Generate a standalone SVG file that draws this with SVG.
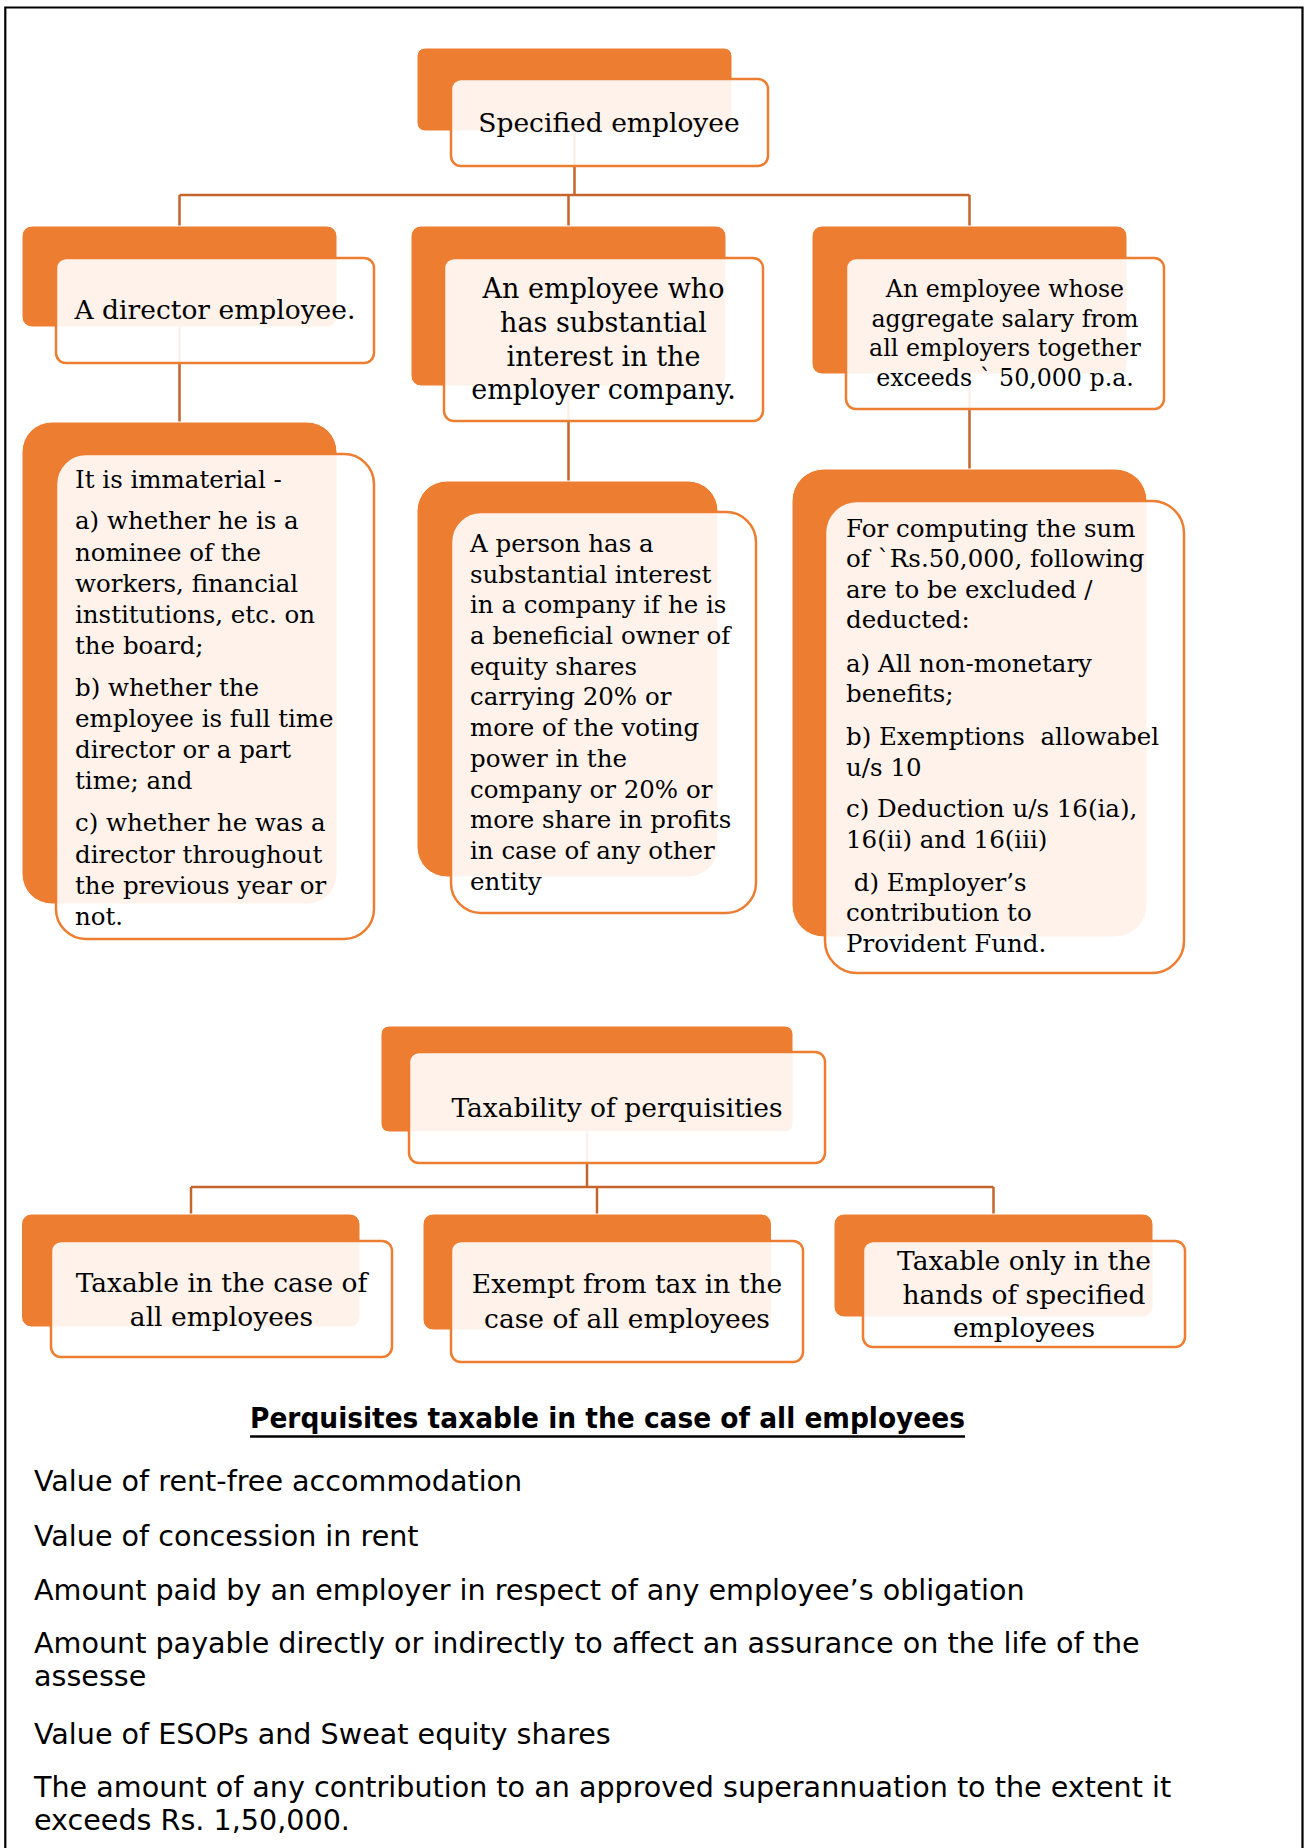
<svg xmlns="http://www.w3.org/2000/svg" width="1306" height="1848" viewBox="0 0 1306 1848">
  <style>
    .back { fill: #ED7D31; stroke: #FFFFFF; stroke-width: 1; }
    .front { fill: #FFFFFF; fill-opacity: 0.9; stroke: #ED7D31; stroke-width: 2.5; }
    .conn { fill: none; stroke: #C3652C; stroke-width: 2.5; }
    .frame { fill: none; stroke: #000000; stroke-width: 2.2; }
    .serif { font-family: "DejaVu Serif", "Liberation Serif", serif; fill: #000000; }
    .t1 { font-size: 26.5px; text-anchor: middle; }
    .tm { font-size: 27px; text-anchor: middle; }
    .tr { font-size: 23.7px; text-anchor: middle; }
    .t2 { font-size: 24.5px; }
    .sans { font-family: "DejaVu Sans", "Liberation Sans", sans-serif; fill: #000000; }
    .list { font-size: 28.6px; }
    .head { font-size: 28px; font-weight: bold; text-anchor: middle; }
  </style>

  <!-- page frame (open at the bottom) -->
  <path class="frame" d="M5.3,1848 V7.5 H1302.5 V1848"/>

  <!-- connectors -->
  <g id="connectors">
    <path class="conn" d="M574.5,131 V195 M179.5,195 H969.5 M179.5,195 V226 M568.5,195 V226 M969.5,195 V226"/>
    <path class="conn" d="M179.5,327 V422 M568.5,386 V481 M969.5,374 V469"/>
    <path class="conn" d="M587,1132 V1187 M191,1187 H993.5 M191,1187 V1214 M597,1187 V1214 M993.5,1187 V1214"/>
  </g>

  <!-- upper hierarchy -->
  <g id="specified-employee">
    <rect class="back" x="417" y="48" width="315" height="83" rx="8"/>
    <rect class="front" x="451" y="79" width="317" height="87" rx="10"/>
    <text class="serif t1" x="609" y="132">Specified employee</text>
  </g>

  <g id="director-employee">
    <rect class="back" x="22" y="226" width="315" height="101" rx="10"/>
    <rect class="front" x="56" y="258" width="318" height="105" rx="10"/>
    <text class="serif t1" x="215" y="319">A director employee.</text>
  </g>

  <g id="substantial-interest">
    <rect class="back" x="411" y="226" width="315" height="160" rx="10"/>
    <rect class="front" x="444" y="258" width="319" height="163" rx="10"/>
    <text class="serif tm" x="603.5" y="298">An employee who</text>
    <text class="serif tm" x="603.5" y="332">has substantial</text>
    <text class="serif tm" x="603.5" y="365.5">interest in the</text>
    <text class="serif tm" x="603.5" y="399">employer company.</text>
  </g>

  <g id="aggregate-salary">
    <rect class="back" x="812" y="226" width="315" height="148" rx="10"/>
    <rect class="front" x="846" y="258" width="318" height="151" rx="10"/>
    <text class="serif tr" x="1005" y="297">An employee whose</text>
    <text class="serif tr" x="1005" y="326.5">aggregate salary from</text>
    <text class="serif tr" x="1005" y="356">all employers together</text>
    <text class="serif tr" x="1005" y="385.5">exceeds ` 50,000 p.a.</text>
  </g>

  <g id="director-detail">
    <rect class="back" x="22" y="422" width="315" height="482" rx="30"/>
    <rect class="front" x="56" y="454" width="318" height="485" rx="30"/>
    <text class="serif t2" x="75" y="487.5">It is immaterial -</text>
    <text class="serif t2" x="75" y="529">a) whether he is a</text>
    <text class="serif t2" x="75" y="560.5">nominee of the</text>
    <text class="serif t2" x="75" y="591.5">workers, financial</text>
    <text class="serif t2" x="75" y="622.5">institutions, etc. on</text>
    <text class="serif t2" x="75" y="653.5">the board;</text>
    <text class="serif t2" x="75" y="696">b) whether the</text>
    <text class="serif t2" x="75" y="727">employee is full time</text>
    <text class="serif t2" x="75" y="758">director or a part</text>
    <text class="serif t2" x="75" y="789">time; and</text>
    <text class="serif t2" x="75" y="831">c) whether he was a</text>
    <text class="serif t2" x="75" y="862.5">director throughout</text>
    <text class="serif t2" x="75" y="893.5">the previous year or</text>
    <text class="serif t2" x="75" y="924.5">not.</text>
  </g>

  <g id="substantial-detail">
    <rect class="back" x="417" y="481" width="301" height="396" rx="30"/>
    <rect class="front" x="451" y="512" width="305" height="401" rx="30"/>
    <text class="serif t2" x="470" y="552">A person has a</text>
    <text class="serif t2" x="470" y="582.5">substantial interest</text>
    <text class="serif t2" x="470" y="613">in a company if he is</text>
    <text class="serif t2" x="470" y="643.5">a beneficial owner of</text>
    <text class="serif t2" x="470" y="674.5">equity shares</text>
    <text class="serif t2" x="470" y="705">carrying 20% or</text>
    <text class="serif t2" x="470" y="736">more of the voting</text>
    <text class="serif t2" x="470" y="766.5">power in the</text>
    <text class="serif t2" x="470" y="797.5">company or 20% or</text>
    <text class="serif t2" x="470" y="828">more share in profits</text>
    <text class="serif t2" x="470" y="858.5">in case of any other</text>
    <text class="serif t2" x="470" y="889.5">entity</text>
  </g>

  <g id="salary-detail">
    <rect class="back" x="792" y="469" width="355" height="468" rx="32"/>
    <rect class="front" x="825" y="501" width="359" height="472" rx="32"/>
    <text class="serif t2" x="846" y="536.5">For computing the sum</text>
    <text class="serif t2" x="846" y="567">of `Rs.50,000, following</text>
    <text class="serif t2" x="846" y="597.5">are to be excluded /</text>
    <text class="serif t2" x="846" y="628">deducted:</text>
    <text class="serif t2" x="846" y="672">a) All non-monetary</text>
    <text class="serif t2" x="846" y="702">benefits;</text>
    <text class="serif t2" x="846" y="745" xml:space="preserve">b) Exemptions  allowabel</text>
    <text class="serif t2" x="846" y="775.5">u/s 10</text>
    <text class="serif t2" x="846" y="817">c) Deduction u/s 16(ia),</text>
    <text class="serif t2" x="846" y="848">16(ii) and 16(iii)</text>
    <text class="serif t2" x="846" y="890.5" xml:space="preserve"> d) Employer’s</text>
    <text class="serif t2" x="846" y="921">contribution to</text>
    <text class="serif t2" x="846" y="951.5">Provident Fund.</text>
  </g>

  <!-- lower hierarchy -->
  <g id="taxability">
    <rect class="back" x="381" y="1026" width="412" height="106" rx="8"/>
    <rect class="front" x="409" y="1052" width="416" height="111" rx="10"/>
    <text class="serif t1" x="617" y="1117">Taxability of perquisities</text>
  </g>

  <g id="taxable-all">
    <rect class="back" x="21.5" y="1214" width="338.5" height="113" rx="10"/>
    <rect class="front" x="51" y="1241" width="341" height="116" rx="10"/>
    <text class="serif t1" x="221.5" y="1292">Taxable in the case of</text>
    <text class="serif t1" x="221.5" y="1326">all employees</text>
  </g>

  <g id="exempt-all">
    <rect class="back" x="423" y="1214" width="348.5" height="116" rx="10"/>
    <rect class="front" x="451" y="1241" width="352" height="121" rx="10"/>
    <text class="serif t1" x="627" y="1293">Exempt from tax in the</text>
    <text class="serif t1" x="627" y="1328">case of all employees</text>
  </g>

  <g id="taxable-specified">
    <rect class="back" x="834" y="1214" width="319" height="103" rx="10"/>
    <rect class="front" x="863" y="1241" width="322" height="106" rx="10"/>
    <text class="serif t1" x="1024" y="1270">Taxable only in the</text>
    <text class="serif t1" x="1024" y="1303.5">hands of specified</text>
    <text class="serif t1" x="1024" y="1337">employees</text>
  </g>

  <!-- list of perquisites -->
  <g id="perquisite-list">
    <text class="sans head" x="607.5" y="1428" textLength="715" lengthAdjust="spacingAndGlyphs">Perquisites taxable in the case of all employees</text>
    <line x1="250" y1="1436.5" x2="965" y2="1436.5" stroke="#000000" stroke-width="2.6"/>
    <text class="sans list" x="34" y="1491">Value of rent-free accommodation</text>
    <text class="sans list" x="34" y="1546">Value of concession in rent</text>
    <text class="sans list" x="34" y="1600">Amount paid by an employer in respect of any employee’s obligation</text>
    <text class="sans list" x="34" y="1653">Amount payable directly or indirectly to affect an assurance on the life of the</text>
    <text class="sans list" x="34" y="1686">assesse</text>
    <text class="sans list" x="34" y="1744">Value of ESOPs and Sweat equity shares</text>
    <text class="sans list" x="34" y="1797">The amount of any contribution to an approved superannuation to the extent it</text>
    <text class="sans list" x="34" y="1830">exceeds Rs. 1,50,000.</text>
  </g>
</svg>
